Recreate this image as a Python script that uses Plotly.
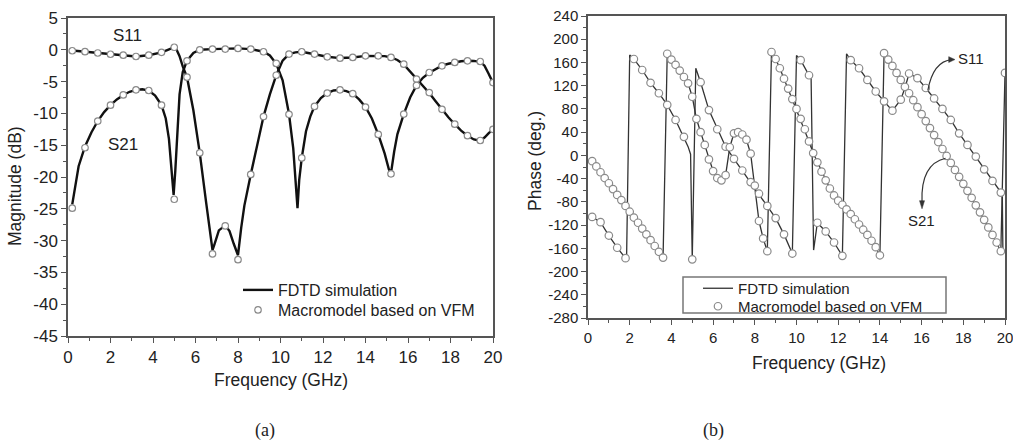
import plotly.graph_objects as go

# ---------------- (a) Magnitude ----------------
mag_freq = [0.2, 0.8, 1.4, 2.0, 2.6, 3.2, 3.8, 4.4, 5.0, 5.6, 6.2, 6.8, 7.4, 8.0, 8.6, 9.2, 9.8,
            10.4, 11.0, 11.6, 12.2, 12.8, 13.4, 14.0, 14.6, 15.2, 15.8, 16.4, 17.0, 17.6, 18.2, 18.8, 19.4, 20.0]
mag_s11_vfm = [-0.15, -0.3, -0.5, -0.7, -0.85, -1.05, -0.85, -0.4, 0.4, -4.3, -16.2, -32.1, -27.7, -33.0, -19.6, -10.5, -4.0,
               -0.68, -0.31, -0.68, -1.1, -1.31, -1.2, -0.94, -0.94, -1.2, -2.26, -4.6, -6.73, -9.36, -11.7, -13.5, -14.26, -12.5]
mag_s21_vfm = [-24.9, -15.4, -11.2, -8.7, -7.1, -6.3, -6.4, -8.7, -23.5, -1.73, 0.0, 0.11, 0.11, 0.22, 0.11, -0.31, -2.15,
               -10.15, -17.0, -8.9, -6.8, -6.3, -6.9, -9.0, -13.3, -19.5, -10.1, -5.6, -3.57, -2.52, -1.99, -1.73, -1.84, -5.15]

mag_s11_fdtd_freq = [0.2, 0.8, 1.4, 2.0, 2.6, 3.2, 3.8, 4.4, 4.7, 5.0, 5.1, 5.25, 5.4, 5.6, 5.9, 6.2, 6.5, 6.7, 6.8, 6.9,
                     7.1, 7.4, 7.6, 7.8, 8.0, 8.15, 8.3, 8.6, 8.9, 9.2, 9.5, 9.8, 10.1, 10.4, 10.7, 11.0, 11.3, 11.6,
                     12.2, 12.8, 13.4, 14.0, 14.6, 14.9, 15.2, 15.5, 15.8, 16.1, 16.4, 16.7, 17.0, 17.3, 17.6, 17.9,
                     18.2, 18.5, 18.8, 19.1, 19.4, 19.6, 19.8, 20.0]
mag_s11_fdtd = [-0.1, -0.3, -0.5, -0.7, -0.85, -1.05, -0.85, -0.4, 0.0, 0.4, 0.1, -1.0, -2.6, -4.3, -9.5, -16.2, -24.0, -29.5,
                -31.5, -30.5, -28.4, -27.6, -28.5, -30.5, -32.3, -28.0, -24.5, -19.6, -14.8, -10.5, -7.0, -4.0, -1.7,
                -0.68, -0.4, -0.3, -0.5, -0.7, -1.1, -1.3, -1.2, -0.95, -0.95, -1.0, -1.2, -1.6, -2.3, -3.4, -4.6, -5.7,
                -6.8, -8.1, -9.4, -10.6, -11.7, -12.7, -13.5, -14.1, -14.3, -13.8, -13.1, -12.5]
mag_s21_fdtd_freq = [0.2, 0.35, 0.5, 0.8, 1.1, 1.4, 1.7, 2.0, 2.3, 2.6, 2.9, 3.2, 3.5, 3.8, 4.1, 4.4, 4.6, 4.75, 4.88,
                     4.97, 5.05, 5.15, 5.25, 5.4, 5.6, 5.9, 6.2, 6.8, 7.4, 8.0, 8.6, 9.2, 9.5, 9.8, 10.1, 10.4, 10.6,
                     10.72, 10.8, 10.88, 11.0, 11.2, 11.4, 11.6, 11.9, 12.2, 12.5, 12.8, 13.1, 13.4, 13.7, 14.0, 14.3,
                     14.6, 14.9, 15.1, 15.2, 15.35, 15.5, 15.8, 16.1, 16.4, 16.7, 17.0, 17.3, 17.6, 17.9, 18.2, 18.5,
                     18.8, 19.1, 19.4, 19.6, 19.8, 20.0]
mag_s21_fdtd = [-24.3, -21.0, -18.3, -15.2, -13.0, -11.2, -9.8, -8.7, -7.8, -7.1, -6.6, -6.3, -6.2, -6.4, -7.2, -8.7,
                -10.8, -14.0, -18.5, -22.8, -19.0, -12.0, -7.0, -3.5, -1.7, -0.5, 0.0, 0.11, 0.11, 0.22, 0.1, -0.3,
                -0.9, -2.2, -4.8, -10.1, -15.5, -20.5, -24.9, -20.5, -17.0, -12.8, -10.5, -8.9, -7.6, -6.8, -6.4,
                -6.3, -6.5, -6.9, -7.8, -9.0, -10.8, -13.3, -16.3, -18.8, -19.4, -16.0, -13.3, -10.1, -7.5, -5.6,
                -4.4, -3.6, -3.0, -2.5, -2.2, -2.0, -1.8, -1.73, -1.75, -1.9, -2.5, -3.8, -5.2]

mag_xticks = [0, 2, 4, 6, 8, 10, 12, 14, 16, 18, 20]
mag_yticks = [5, 0, -5, -10, -15, -20, -25, -30, -35, -40, -45]
mag_ytick_labels = ["5", "0", "-5", "-10", "-15", "-20", "-25", "-30", "-35", "-40", "-45"]

# ---------------- (b) Phase ----------------
ph_s11_freq = [0.2, 0.6, 1.0, 1.4, 1.8, 2.2, 2.6, 3.0, 3.4, 3.8, 4.2, 4.6, 5.0, 5.4, 5.8, 6.2, 6.6, 7.0, 7.4, 7.8,
               8.2, 8.6, 9.0, 9.4, 9.8, 10.2, 10.6, 11.0, 11.4, 11.8, 12.2, 12.6, 13.0, 13.4, 13.8, 14.2, 14.6,
               15.0, 15.4, 15.8, 16.2, 16.6, 17.0, 17.4, 17.8, 18.2, 18.6, 19.0, 19.4, 19.8]
ph_s11_vfm = [-106, -115, -138, -159, -177, 166, 147, 125, 107, 87, 61, 32, -179, 126, 78, 45, 15, -6, -26, -46,
              -66, -87, -108, -136, -169, 164, 138, -116, -131, -150, -173, 164, 150, 130, 110, 93, 77,
              96, 141, 133, 116, 98, 80, 61, 38, 18, -2, -24, -44, -64]
ph_s21_freq = [0.2, 0.4, 0.6, 0.8, 1.0, 1.2, 1.4, 1.6, 1.8, 2.0, 2.2, 2.4, 2.6, 2.8, 3.0, 3.2, 3.4, 3.6,
               3.8, 4.0, 4.2, 4.4, 4.6, 4.8, 5.0, 5.2, 5.4, 5.6, 5.8, 6.0, 6.2, 6.4, 6.6, 6.8, 7.0, 7.2, 7.4,
               7.6, 7.8, 8.0, 8.2, 8.4, 8.6,
               8.8, 9.0, 9.2, 9.4, 9.6, 9.8, 10.0, 10.2, 10.4, 10.6, 10.8, 11.0, 11.2, 11.4, 11.6, 11.8, 12.0,
               12.2, 12.4, 12.6, 12.8, 13.0, 13.2, 13.4, 13.6, 13.8, 14.0,
               14.2, 14.4, 14.6, 14.8, 15.0, 15.2, 15.4, 15.6, 15.8, 16.0, 16.2, 16.4, 16.6, 16.8, 17.0, 17.2,
               17.4, 17.6, 17.8, 18.0, 18.2, 18.4, 18.6, 18.8, 19.0, 19.2, 19.4, 19.6, 19.8, 20.0]
ph_s21_vfm = [-10, -19, -29, -39, -48, -58, -68, -77, -87, -97, -107, -116, -126, -136, -146, -156, -166, -176,
              175, 165, 156, 146, 135, 124, 101, 63, 40, 18, -7, -27, -39, -43, -34, 14, 38, 40, 36,
              27, 3, -52, -113, -143, -165,
              178, 166, 150, 132, 115, 97, 80, 63, 45, 24, 4, -12, -28, -43, -57, -69, -78,
              -85, -93, -101, -110, -119, -128, -137, -147, -158, -172,
              176, 165, 154, 142, 130, 118, 107, 95, 83, 71, 59, 47, 35, 23, 11, -1,
              -13, -25, -37, -49, -61, -73, -86, -98, -111, -124, -137, -150, -165, 142]

ph_s11_fdtd_freq = [0.2, 0.6, 1.0, 1.4, 1.8, 1.85, 2.0, 2.2, 2.6, 3.0, 3.4, 3.8, 4.2, 4.6, 4.8, 4.92, 5.0, 5.17,
                    5.4, 5.8, 6.2, 6.6, 7.0, 7.4, 7.8, 8.2, 8.6, 9.0, 9.4, 9.8, 10.0, 10.2, 10.6, 10.7, 10.82,
                    11.0, 11.4, 11.8, 12.2, 12.4, 12.6, 13.0, 13.4, 13.8, 14.2, 14.6, 15.0, 15.2, 15.4, 15.8,
                    16.2, 16.6, 17.0, 17.4, 17.8, 18.2, 18.6, 19.0, 19.4, 19.8, 19.87, 19.9]
ph_s11_fdtd = [-106, -115, -138, -159, -177, -178, 173, 166, 147, 125, 107, 87, 61, 32, 15, 2, -179, 150,
               126, 78, 45, 15, -6, -26, -46, -66, -87, -108, -136, -169, 172, 164, 138, 135, -163,
               -116, -131, -150, -173, 175, 164, 150, 130, 110, 93, 77, 96, 116, 141, 133,
               116, 98, 80, 61, 38, 18, -2, -24, -44, -64, -67, -166]
ph_s21_fdtd_freq = ph_s21_freq
ph_s21_fdtd = ph_s21_vfm

ph_xticks = [0, 2, 4, 6, 8, 10, 12, 14, 16, 18, 20]
ph_yticks = [240, 200, 160, 120, 80, 40, 0, -40, -80, -120, -160, -200, -240, -280]
ph_ytick_labels = ["240", "200", "160", "120", "80", "40", "0", "-40", "-80", "-120", "-160", "-200", "-240", "-280"]

for a, b in [(mag_freq, mag_s11_vfm), (mag_freq, mag_s21_vfm), (mag_s11_fdtd_freq, mag_s11_fdtd),
             (mag_s21_fdtd_freq, mag_s21_fdtd), (ph_s11_freq, ph_s11_vfm), (ph_s21_freq, ph_s21_vfm),
             (ph_s11_fdtd_freq, ph_s11_fdtd)]:
    assert len(a) == len(b), (len(a), len(b))

W, H = 1013, 445
FONT = "Liberation Sans"
TXT = "#222222"
AX = "#555555"

fig = go.Figure()

line_mag = dict(color="#111111", width=2.4)
mk_mag = dict(symbol="circle", size=6.5, color="white", line=dict(color="#8a8a8a", width=1.2))
line_ph = dict(color="#333333", width=1.3)
mk_ph = dict(symbol="circle", size=7.5, color="white", line=dict(color="#8a8a8a", width=1.2))

# (a) lines
fig.add_trace(go.Scatter(x=mag_s11_fdtd_freq, y=mag_s11_fdtd, mode="lines", line=line_mag,
                         name="FDTD simulation", legend="legend", showlegend=True, xaxis="x", yaxis="y"))
fig.add_trace(go.Scatter(x=mag_s21_fdtd_freq, y=mag_s21_fdtd, mode="lines", line=line_mag,
                         name="FDTD simulation", showlegend=False, xaxis="x", yaxis="y"))
fig.add_trace(go.Scatter(x=mag_freq, y=mag_s11_vfm, mode="markers", marker=mk_mag,
                         name="Macromodel based on VFM", legend="legend2", showlegend=True, xaxis="x", yaxis="y"))
fig.add_trace(go.Scatter(x=mag_freq, y=mag_s21_vfm, mode="markers", marker=mk_mag,
                         name="Macromodel based on VFM", showlegend=False, xaxis="x", yaxis="y"))

# (b) lines
fig.add_trace(go.Scatter(x=ph_s11_fdtd_freq, y=ph_s11_fdtd, mode="lines", line=line_ph,
                         name="FDTD simulation", legend="legend3", showlegend=True, xaxis="x2", yaxis="y2"))
fig.add_trace(go.Scatter(x=ph_s21_fdtd_freq, y=ph_s21_fdtd, mode="lines", line=line_ph,
                         name="FDTD simulation", showlegend=False, xaxis="x2", yaxis="y2"))
fig.add_trace(go.Scatter(x=ph_s11_freq, y=ph_s11_vfm, mode="markers", marker=mk_ph,
                         name="Macromodel based on VFM", legend="legend4", showlegend=True, xaxis="x2", yaxis="y2"))
fig.add_trace(go.Scatter(x=ph_s21_freq, y=ph_s21_vfm, mode="markers", marker=mk_ph,
                         name="Macromodel based on VFM", showlegend=False, xaxis="x2", yaxis="y2"))


def axis(domain, rng, tickvals, ticktext, minor_vals, fsize, anchor):
    return dict(domain=domain, range=rng, anchor=anchor, tickmode="array", tickvals=tickvals, ticktext=ticktext,
                ticks="outside", ticklen=5, tickwidth=1.2, tickcolor=AX, automargin=False,
                ticklabeloverflow="allow",
                minor=dict(ticks="outside", ticklen=3, tickwidth=1, tickcolor=AX, tickvals=minor_vals),
                showline=True, linecolor=AX, linewidth=1.5, mirror=True, showgrid=False, zeroline=False,
                tickfont=dict(family=FONT, size=fsize, color=TXT), fixedrange=True)


mag_xminor = [v + 1 for v in mag_xticks[:-1]]
mag_yminor = [v - 2.5 for v in mag_yticks[:-1]]
ph_xminor = [v + 1 for v in ph_xticks[:-1]]
ph_yminor = [v - 20 for v in ph_yticks[:-1]]


def leg(x_px, top_px, size):
    return dict(x=x_px / W, y=1 - top_px / H, xanchor="left", yanchor="top", bgcolor="rgba(0,0,0,0)",
                borderwidth=0, font=dict(family=FONT, size=size, color=TXT), itemwidth=30)


fig.update_layout(
    width=W, height=H, autosize=False, margin=dict(l=0, r=0, t=0, b=0, autoexpand=False),
    paper_bgcolor="white", plot_bgcolor="white",
    xaxis=axis([68 / W, 493 / W], [0, 20], mag_xticks, [str(v) for v in mag_xticks], mag_xminor, 17, "y"),
    yaxis=axis([1 - 336 / H, 1 - 18 / H], [-45, 5], mag_yticks, mag_ytick_labels, mag_yminor, 17, "x"),
    xaxis2=axis([588 / W, 1005 / W], [0, 20], ph_xticks, [str(v) for v in ph_xticks], ph_xminor, 15, "y2"),
    yaxis2=axis([1 - 318 / H, 1 - 16 / H], [-280, 240], ph_yticks, ph_ytick_labels, ph_yminor, 15, "x2"),
    legend=leg(238, 273, 16),
    legend2=leg(238, 293, 16),
    legend3=leg(698, 272, 15),
    legend4=leg(698, 290, 15),
    showlegend=True,
)

ann = []
def txt(text, x, y, size, rot=0, fam=FONT, xref="paper", yref="paper"):
    ann.append(dict(text=text, x=x, y=y, xref=xref, yref=yref, showarrow=False, textangle=rot,
                    font=dict(family=fam, size=size, color=TXT), xanchor="center", yanchor="middle"))

txt("Frequency (GHz)", 281 / W, 1 - 380 / H, 17.5)
txt("Frequency (GHz)", 819 / W, 1 - 363 / H, 17.5)
txt("Magnitude (dB)", 15 / W, 1 - 186 / H, 17.5, rot=-90)
txt("Phase (deg.)", 535 / W, 1 - 161 / H, 17.5, rot=-90)
txt("(a)", 265 / W, 1 - 430 / H, 18, fam="Liberation Serif")
txt("(b)", 713 / W, 1 - 430 / H, 18, fam="Liberation Serif")
txt("S11", 2.78, 2.2, 17, xref="x", yref="y")
txt("S21", 2.6, -14.9, 17, xref="x", yref="y")
txt("S11", 18.35, 167, 15, xref="x2", yref="y2")
txt("S21", 15.98, -112, 15, xref="x2", yref="y2")
fig.update_layout(annotations=ann)

shapes = [
    # legend box of (b)
    dict(type="rect", xref="paper", yref="paper", x0=683 / W, x1=946 / W, y0=1 - 313 / H, y1=1 - 277 / H,
         line=dict(color="#777777", width=1.5)),
    # curved pointer to S11
    dict(type="path", xref="x2", yref="y2", path="M 16.3,112 Q 16.55,162 17.45,165",
         line=dict(color="#333333", width=1.2)),
    dict(type="path", xref="x2", yref="y2", path="M 17.6,165 L 17.3,170 L 17.3,160 Z",
         fillcolor="#333333", line=dict(color="#333333", width=0.5)),
    # curved pointer to S21
    dict(type="path", xref="x2", yref="y2", path="M 17.15,-5 Q 15.95,-15 16.02,-80",
         line=dict(color="#333333", width=1.2)),
    dict(type="path", xref="x2", yref="y2", path="M 16.02,-92 L 15.9,-78 L 16.14,-78 Z",
         fillcolor="#333333", line=dict(color="#333333", width=0.5)),
]
fig.update_layout(shapes=shapes)

fig.write_html("out.html")
